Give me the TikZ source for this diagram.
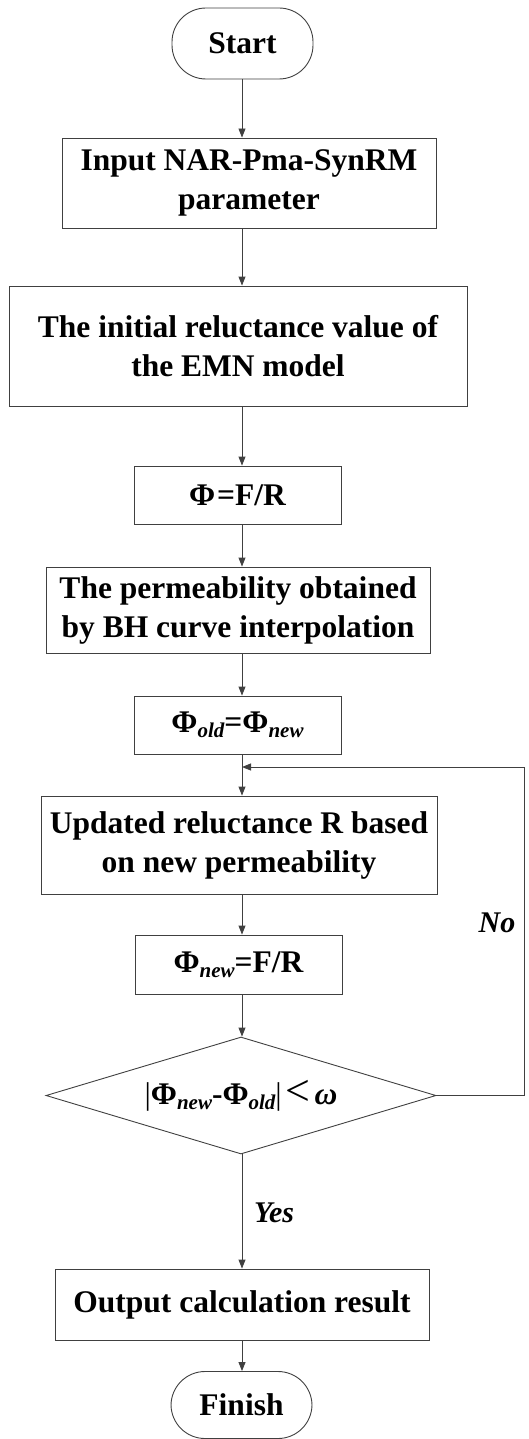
\documentclass[tikz,border=0pt]{standalone}
\usepackage{fontspec}
\setmainfont{Liberation Serif}
\usetikzlibrary{arrows.meta,shapes.geometric}
\newcommand\Sb[1]{\raisebox{-5pt}{\fontsize{21}{21}\selectfont\bfseries\itshape #1}}
\begin{document}
\begin{tikzpicture}[x=1pt,y=-1pt,
  box/.style={draw=black!75, line width=0.9pt, fill=white, align=center, inner sep=0pt,
    font=\fontsize{31.5}{39}\selectfont\bfseries},
  term/.style={box, rounded corners=34pt},
  decision/.style={box, shape=diamond, aspect=3.33},
  arr/.style={draw=black!75, line width=0.9pt, -{Triangle[length=9pt,width=7pt]}},
  lab/.style={font=\fontsize{30}{30}\selectfont\bfseries\itshape, inner sep=0pt}]
\useasboundingbox (0,0) rectangle (529,1439);

\node[term, minimum width=141pt, minimum height=71pt] (start) at (242.5,43.5) {Start};
\node[box, minimum width=374pt, minimum height=90pt] (b1) at (249,183) {Input NAR-Pma-SynRM\\parameter};
\node[box, minimum width=458pt, minimum height=120pt] (b2) at (238,346) {The initial reluctance value of\\the EMN model};
\node[box, minimum width=207pt, minimum height=58pt] (b3) at (237.5,495) {Φ\kern2pt=F/R};
\node[box, minimum width=384pt, minimum height=86pt] (b4) at (238,610) {The permeability obtained\\by BH curve interpolation};
\node[box, minimum width=207pt, minimum height=58pt] (b5) at (237.5,725) {Φ\Sb{old}=Φ\Sb{new}};
\node[box, minimum width=396pt, minimum height=98pt] (b6) at (239,845) {Updated reluctance R based\\on new permeability};
\node[box, minimum width=207pt, minimum height=59pt] (b7) at (238.5,964.5) {Φ\Sb{new}=F/R};
\node[decision, minimum width=390pt, minimum height=117pt] (dia) at (241,1095.5)
  {{\mdseries|}Φ\Sb{new}-Φ\Sb{old}{\mdseries|}\kern4pt{\mdseries\fontsize{44}{44}\selectfont\raisebox{-1pt}{<}}\kern4pt\textit{ω}};
\node[box, minimum width=374pt, minimum height=71pt] (b8) at (242,1304.5) {Output calculation result};
\node[term, minimum width=141pt, minimum height=67pt] (fin) at (241.5,1405) {Finish};

\node[lab] (yes) at (274,1213) {Yes};
\node[lab] (no) at (497,923) {No};

\coordinate (ax) at (242,0);
\coordinate (join) at (242,767);
\coordinate (fbR) at (524,1095.5);

\draw[arr] (ax |- start.south) -- (ax |- b1.north);
\draw[arr] (ax |- b1.south) -- (ax |- b2.north);
\draw[arr] (ax |- b2.south) -- (ax |- b3.north);
\draw[arr] (ax |- b3.south) -- (ax |- b4.north);
\draw[arr] (ax |- b4.south) -- (ax |- b5.north);
\draw[arr] (ax |- b5.south) -- (ax |- b6.north);
\draw[arr] (ax |- b6.south) -- (ax |- b7.north);
\draw[arr] (ax |- b7.south) -- (ax |- dia.north);
\draw[arr] (ax |- dia.south) -- (ax |- b8.north);
\draw[arr] (ax |- b8.south) -- (ax |- fin.north);
\draw[arr] (dia.east) -- (fbR) |- (join);
\end{tikzpicture}
\end{document}
